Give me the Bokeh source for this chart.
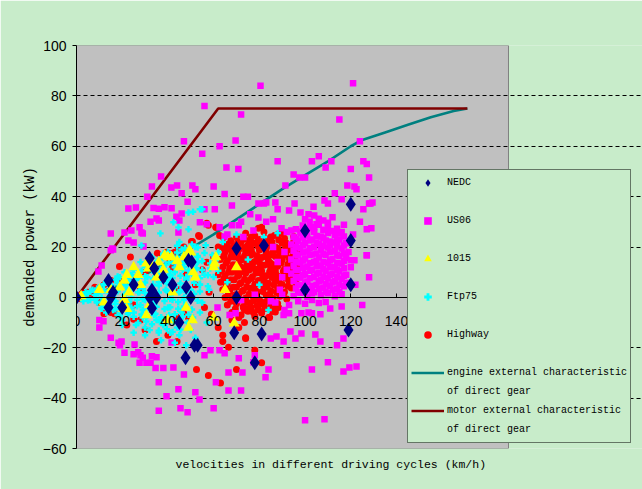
from bokeh.plotting import figure
from bokeh.models import (Range1d, FixedTicker, Legend, LegendItem, Title,
                          ColumnDataSource)
from bokeh.embed import file_html
from bokeh.resources import INLINE

# ---------------- data ----------------
x_ticks = [0, 20, 40, 60, 80, 100, 120, 140, 160, 180]
y_ticks = [-60, -40, -20, 0, 20, 40, 60, 80, 100]
grid_ticks = [-40, -20, 20, 40, 60, 80]
x_area = (0, 189)          # extent of the grey plot area (km/h)
y_area = (-60, 100)        # extent of the grey plot area (kW)

motor_v = [0, 62, 171]
motor_p = [0, 75, 75]

engine_v = [0, 10, 20, 30, 40, 50, 60, 70, 80, 90, 100, 110, 120, 125, 135, 145, 155, 165, 171]
engine_p = [0, 2, 5, 9, 14, 19.5, 25, 31, 37, 43, 48.5, 54, 60, 62.5, 65.5, 68.5, 71.5, 74, 75]

nedc_pts = [(0, 0), (15, 0), (14, 6.7), (14, -4), (16, 2), (32, 0), (33, -4.3), (35, 0), (33, 2.8),
            (32, 15.5), (34, 11.5), (50, 0), (50.4, 14), (49, 14.7), (47.7, -24), (51.6, -19),
            (53, -19), (70, 0), (70, 19.4), (69, -14), (82, 20.6), (100, 3), (100, 26.5),
            (81, -14.5), (78, -26), (120, 5), (120, 37), (120, 22.6), (119, -13), (45, -10),
            (20, -4), (25, 5), (38, 8), (42, 5), (48, 4)]

us06_pts = [
    # scattered high points
    (80.5, 84), (121, 85), (56, 76), (72, 72.6), (47, 62), (69.6, 62.3), (62.6, 60), (55, 57),
    (115, 70.6), (124, 62), (88, 54), (65.6, 51.6), (70.8, 51), (103, 54), (106, 56), (111.5, 54),
    (125.5, 54), (127, 53), (120, 51), (109, 51.6), (95, 48.8), (97.5, 47.6), (100, 47.6),
    (128, 47.6), (37, 48), (33, 44), (41.5, 43.6), (44, 44.4), (50.7, 44.4), (52, 42.9), (60, 44),
    (64.8, 41), (46, 41.3), (31, 40), (91.4, 44.4), (118.5, 44.4), (121.6, 44), (122.5, 42.9),
    (73, 40), (75, 40), (82, 37.3), (87, 37.7), (48.6, 38), (88, 35), (93, 34.5), (95.4, 37.3),
    (68, 36.5), (22.7, 35.3), (26, 35.7), (33.7, 35.5), (36, 35.2), (38.5, 35.8), (41.6, 35.4),
    (56, 35), (79.6, 37.3), (83, 37.7), (98, 33.7), (101.5, 33), (103.7, 36), (108.5, 38.5),
    (110, 37.3), (113, 41.3), (116, 39), (125.5, 35), (128.6, 37.3), (129.5, 37.7), (35, 31.3),
    (36, 30.5), (43.7, 32), (45, 30.5), (32.4, 30), (27.6, 27.8), (29, 25.4), (79.6, 31.7),
    (129, 27.4), (15, 25.4), (21, 25.8), (24, 26.6), (22.7, 22.6), (25, 21.8), (29.3, 20.2),
    (15, 18.7), (15.7, 19.4), (11, 12.7), (9.6, 10.3), (120, 14.7), (127, 16.7), (128, 8),
    (46, 33.3), (60.5, 35), (54, 29.8), (57, 29), (62.6, 27.8), (64.8, 24.2), (71, 28.6),
    (44.6, 25.8), (28.4, 25.8), (16, 19), (128, 37.3), (127, 27), (127, 16.7), (121.6, 14.7),
    (77.4, 26.6), (89.7, 27.4), (94, 26.6), (66, 25), (72, 30), (76, 33), (83, 30), (86, 31),
    (73, 24), (68, 28.6),
    # near zero, mid speeds
    (72, -1), (78, 1), (85, -1.5), (90, 1), (93, -3), (61.7, -4), (67, -7), (69.6, -6.3),
    # main US06 cluster
    (100, 31), (104, 32.5), (108, 30.5), (112, 31.8), (106, 28.8),
    (96, 27), (99, 28.5), (102, 27.5), (105, 29), (110, 28), (114, 27.2), (117, 28.8),
    (95, 24), (98, 25.5), (101, 24.6), (104, 26), (107, 24.2), (110, 25.6), (113, 24.8), (116, 26),
    (94, 21), (97, 22.5), (100, 21.6), (103, 23), (106, 21.2), (109, 22.6), (112, 21.8), (115, 23), (118, 21.5),
    (95, 18.5), (98, 19.6), (101, 18.2), (104, 20), (107, 18.8), (110, 19.8), (113, 18.4), (116, 19.4), (119, 18),
    (94, 15), (97, 16.6), (100, 15.4), (103, 17), (106, 15.8), (109, 16.8), (112, 15.2), (115, 16.4), (118, 15.6),
    (95, 12.4), (98, 13.8), (101, 12.2), (104, 14), (107, 12.6), (110, 13.6), (113, 12), (116, 13.4),
    (94, 9.5), (97, 10.8), (100, 9.2), (103, 11), (106, 9.8), (109, 10.6), (112, 9.4), (115, 10.4), (118, 9),
    (95, 6.5), (98, 7.8), (101, 6.2), (104, 8), (107, 6.8), (110, 7.6), (113, 6.4), (116, 7.4),
    (96, 3.5), (99, 4.8), (102, 3.2), (105, 5), (108, 3.8), (111, 4.6), (114, 3.4), (117, 4.4),
    (95, 0.5), (98, 1.8), (101, 0.2), (104, 2), (107, 0.8), (110, 1.6), (113, 0.4), (116, 1.2),
    (97, -1.5), (100, -2.5), (103, -1), (106, -2.2), (109, -1.8),
    (86, 20), (88, 14), (90, 8), (91, 18), (89, 3), (92, 26), (87, -2), (92, 11),
    (120, 12), (121, 25), (122, 5), (124, 30), (125, -3),
    (102, 30), (106, 31.2), (110, 29.6), (98, 26.2), (101, 27), (104, 27.8), (108, 26.8), (112, 26.4), (115, 25.4),
    (96, 23.2), (99, 23.8), (102, 22.6), (105, 24.4), (108, 23.6), (111, 22.2), (114, 22.4), (117, 24.2),
    (96, 20), (99, 20.8), (102, 19.6), (105, 21.8), (108, 20.4), (111, 20.6), (114, 20.2), (117, 20.6),
    (96, 17), (99, 17.8), (102, 16.8), (105, 17.4), (108, 17.2), (111, 18), (114, 16.8), (117, 17.4),
    (96, 14), (99, 14.6), (102, 13.6), (105, 14.4), (108, 14), (111, 14.6), (114, 13.6), (117, 14.4),
    (96, 11), (99, 11.8), (102, 10.6), (105, 12.4), (108, 11.2), (111, 12), (114, 11), (117, 11.6),
    (96, 8), (99, 8.8), (102, 7.6), (105, 9.4), (108, 8.2), (111, 9), (114, 8), (117, 8.6),
    (97, 5), (100, 5.8), (103, 4.6), (106, 6.4), (109, 5.2), (112, 6), (115, 5), (118, 5.8),
    (97, 2), (100, 2.8), (103, 1.6), (106, 3.4), (109, 2.2), (112, 3), (115, 2),
    # negative power
    (10, -9), (11.8, -9.5), (10, -12), (15, -16), (18.4, -18), (19, -19), (19.7, -17.5), (21, -22),
    (25, -22.6), (27, -21.8), (28, -23), (29, -24), (27.6, -26), (30.6, -26), (32.4, -26),
    (33, -23.4), (35, -23.8), (25.4, -18.7), (34.6, -28), (38, -28), (42.4, -27.8), (36, -33.7),
    (44.6, -36.5), (39.4, -39.3), (36, -45), (45.5, -44), (48.6, -45.6), (47, -30.6), (52, -37.7),
    (53.8, -40.5), (60, -44), (56, -23), (58.6, -21), (62.6, -21), (64.8, -22.2), (61, -33.7),
    (66.5, -29.8), (66.5, -37), (71, -24.2), (72.6, -29.8), (72, -37), (41.6, -17.9),
    (91, -5), (90.6, -7), (93, -6.3), (98.4, -6.3), (101.5, -6), (103, -6.3), (106.7, -6.7),
    (111, -4.4), (116, -3.6), (93.6, -13.5), (90.6, -17.5), (95.8, -16.3), (85, -16.3),
    (87.5, -15.5), (98.4, -14.3), (104.5, -14.7), (106.7, -17.5), (116.8, -16.3), (114, -19),
    (92, -23), (110, -25.8), (103, -28.6), (116.8, -29.4), (119.4, -27.8), (122.5, -27.4),
    (84, -28.6), (82.7, -31.7), (100, -48.8), (108.5, -48.4), (78, -23), (77.4, -25.8),
]

j1015_pts = [(0, 0), (2, 0.5), (10, 3), (12, -2), (21, 6.7), (20.6, -4.4), (22, 9), (25, 12),
             (30.6, 13.5), (30.6, -7), (32, -3), (35, 8), (38, 11), (40, 16), (40, -9), (42, 2),
             (45, 12), (48, -4), (50, 17.9), (50.7, -9), (49, -12), (52, 8), (60.4, 13.5),
             (61, 16), (60, -8), (69, -10.3), (65, 3), (70, 12),
             (38.6, 16.7), (41.6, 16), (31.5, 11.5), (33, 12), (27, 9), (36, 14), (44, 14.5),
             (47, 16), (49.4, 18.7), (51, 10), (60, 12), (28, 5), (15, 3), (19, 4), (23, 2),
             (21, -1), (22, -4.5)]

ftp75_pts = [
    (2, 0.5), (3, 1), (4, -0.5), (5, 1.5), (6, -1), (4, 2), (6, 2.5), (3, -1.5),
    (7, 3), (8, 1), (9, -2), (10, 4), (11, 0), (12, -3), (8, -1), (10, 2.5), (12, 5), (11, -4.5), (9, 3.5),
    (13, 6), (14, 2), (15, -1), (16, -5), (17, 7), (18, 3), (14, -3), (16, 0.5), (18, -7), (15, 4.5),
    (17, -2.5), (13, -6),
    (19, 8), (20, 5), (21, 1), (22, -2), (23, -6), (24, 9), (20, -9), (22, 3), (24, -4), (21, 10),
    (23, 6.5), (19, -4), (24, 0),
    (25, 11), (26, 7), (27, 2), (28, -3), (29, -8), (30, 12), (26, -11), (28, 5), (30, -1), (27, 9.5),
    (29, 3.5), (25, -6), (30, -12), (28, 14),
    (31, 8), (32, 13), (33, 4), (34, -2), (35, -9), (36, 15), (32, -13), (34, 10), (36, 6), (31, -5),
    (33, 16), (35, 1), (36, -14), (34, -7),
    (37, 11), (38, 17), (39, 3), (40, -4), (41, 9), (42, 14), (38, -11), (40, 7), (42, -1), (37, -8),
    (39, 13), (41, -14), (42, 5), (40, 18),
    (43, 10), (44, 16), (45, 2), (46, -6), (47, 12), (48, 7), (44, -12), (46, 19), (48, -3), (43, 4),
    (45, -15), (47, 0), (48, 14), (45, 22),
    (49, 9), (50, 3), (51, -8), (52, 11), (53, 16), (54, 5), (55, -2), (56, 9), (50, -13), (52, 20),
    (54, -6), (49, 27), (51, 34), (55, 35), (53, 14),
    (58, 3), (60, 13), (62, 18), (64, 22), (66, 6), (70, 25), (75, 15), (82, 24), (88, 25.5),
    (80, 5), (84, -5),
    (20, -11), (25, -14), (30, -15), (37, -17), (43, -18), (48, -19), (52, -16), (57, -10),
    (42.4, 29.8), (44.6, 27.8), (49, 33.7), (54, 35), (36.7, 25.4), (28.4, 20.6),
    (44, 20.5), (47.5, 19.6), (50.5, 21), (53, 19.8), (56.5, 20.7),
    (38, 17.4), (41.5, 16.6), (44, 17.8), (47, 16.9), (50.5, 17.3), (53, 16.4), (56, 17.6), (59.5, 16.8),
    (31, 14.3), (34.5, 13.6), (37, 14.8), (40.5, 13.9), (43, 14.5), (46.5, 13.4), (49, 14.9), (52.5, 13.8),
    (55, 14.4), (58.5, 13.5), (61, 14.7),
    (25, 11.2), (28.5, 10.6), (31, 11.7), (34.5, 10.8), (37, 11.4), (40.5, 10.5), (43, 11.9), (46.5, 11),
    (49, 10.7), (52.5, 11.6), (55, 10.9), (58.5, 11.5), (62, 10.6),
    (18, 8.3), (21.5, 7.6), (24, 8.7), (27.5, 7.8), (30, 8.4), (33.5, 7.5), (36, 8.9), (39.5, 8), (42, 7.7),
    (45.5, 8.6), (48, 7.9), (51.5, 8.5), (54, 7.6), (57.5, 8.8), (60, 8.1),
    (12, 5.2), (15.5, 4.6), (18, 5.7), (21.5, 4.8), (24, 5.4), (27.5, 4.5), (30, 5.9), (33.5, 5), (36, 4.7),
    (39.5, 5.6), (42, 4.9), (45.5, 5.5), (48, 4.6), (51.5, 5.8), (54, 5.1), (57.5, 4.4),
    (6, 2.2), (9.5, 1.6), (12, 2.7), (15.5, 1.8), (18, 2.4), (21.5, 1.5), (24, 2.9), (27.5, 2), (30, 1.7),
    (33.5, 2.6), (36, 1.9), (39.5, 2.5), (42, 1.6), (45.5, 2.8), (48, 2.1), (51.5, 1.4), (54, 2.3),
    (5, -1.2), (8.5, -0.6), (11, -1.7), (14.5, -0.8), (17, -1.4), (20.5, -0.5), (23, -1.9), (26.5, -1),
    (29, -0.7), (32.5, -1.6), (35, -0.9), (38.5, -1.5), (41, -0.6), (44.5, -1.8), (47, -1.1), (50.5, -0.4),
    (53, -1.3),
    (11, -4.2), (14.5, -3.6), (17, -4.7), (20.5, -3.8), (23, -4.4), (26.5, -3.5), (29, -4.9), (32.5, -4),
    (35, -3.7), (38.5, -4.6), (41, -3.9), (44.5, -4.5), (47, -3.6), (50.5, -4.8),
    (19, -7.2), (22.5, -6.6), (25, -7.7), (28.5, -6.8), (31, -7.4), (34.5, -6.5), (37, -7.9), (40.5, -7),
    (43, -6.7), (46.5, -7.6), (49, -6.9),
    (27, -10.2), (30.5, -9.6), (33, -10.7), (36.5, -9.8), (39, -10.4), (42.5, -9.5), (45, -10.9), (48.5, -10),
    (36, -13.2), (39.5, -12.6), (42, -13.7), (45.5, -12.8),
]

highway_pts = [
    (70, 24), (74, 25.5), (78, 24.5), (82, 26), (85, 24), (88, 25), (91, 23.5), (76, 22.8), (80, 23), (84, 22.5),
    (66, 21), (69, 20.5), (72, 22), (75, 20.8), (78, 21.5), (81, 20.5), (84, 21), (87, 20), (90, 21.5), (93, 20.2), (95, 22),
    (65, 18), (68, 17.5), (71, 19), (74, 18.2), (77, 17.4), (80, 18.8), (83, 17.8), (86, 18.5), (89, 17.2), (92, 18.4), (95, 17.6), (97, 19),
    (63, 15), (66, 14.5), (69, 16), (72, 14.8), (75, 15.6), (78, 14.2), (81, 15.8), (84, 14.6), (87, 16.2), (90, 14.9), (93, 15.5), (96, 14.3),
    (64, 12), (67, 11.5), (70, 13), (73, 11.8), (76, 12.6), (79, 11.2), (82, 12.8), (85, 11.6), (88, 12.4), (91, 11.3), (94, 12.7), (97, 11.9),
    (62, 9), (65, 8.5), (68, 10), (71, 8.8), (74, 9.6), (77, 8.2), (80, 9.8), (83, 8.6), (86, 9.4), (89, 8.1), (92, 9.7), (95, 8.8),
    (63, 6), (66, 5.5), (69, 7), (72, 5.8), (75, 6.6), (78, 5.2), (81, 6.8), (84, 5.6), (87, 6.4), (90, 5.1), (93, 6.6), (96, 5.8),
    (64, 3), (67, 2.5), (70, 4), (73, 2.8), (76, 3.6), (79, 2.2), (82, 3.8), (85, 2.6), (88, 3.4), (91, 2.1), (94, 3.7),
    (65, 0), (68, -0.5), (71, 1), (74, -0.2), (77, 0.6), (80, -0.8), (83, 0.8), (86, -0.4), (89, 0.4), (92, -0.6),
    (66, -3), (70, -2.5), (73, -3.6), (76, -2.2), (79, -3.2), (82, -2.8), (85, -3.5), (88, -2.4),
    (68, -6), (72, -7), (75, -5.5), (78, -7.5), (81, -6.2), (84, -8), (87, -5.8),
    (73, 10.5), (77, 13.5), (81, 10.5), (79, 16.5), (83, 19.5), (75, 12.5), (85, 13.5), (71, 15.5),
    (87, 10.5), (82, 7.2), (78, 3), (80, 14), (76, 19.5), (84, 17), (88, 19.5), (70, 10.5),
    (67.5, 22.5), (70.5, 22), (73.5, 23.2), (76.5, 24), (79.5, 22.6), (82.5, 23.4), (85.5, 22), (88.5, 22.8), (91.5, 21.8),
    (64.5, 19.5), (67.5, 19), (70.5, 20.5), (73.5, 19.8), (76.5, 18.9), (79.5, 20.2), (82.5, 19.2), (85.5, 20.4),
    (88.5, 18.6), (91.5, 19.8), (94.5, 19.2),
    (64.5, 16.5), (67.5, 16), (70.5, 17.6), (73.5, 16.4), (76.5, 16.9), (79.5, 15.4), (82.5, 16.2), (85.5, 16.9),
    (88.5, 15.6), (91.5, 16.8), (94.5, 16.2),
    (65.5, 13.5), (68.5, 13), (71.5, 12.4), (74.5, 13.9), (77.5, 11.6), (80.5, 12.9), (83.5, 13.2), (86.5, 12.9),
    (89.5, 13.6), (92.5, 13.2), (95.5, 13.1),
    (63.5, 10.5), (66.5, 10), (69.5, 11.6), (72.5, 10.3), (75.5, 10.9), (78.5, 9.7), (81.5, 8.5), (84.5, 10.2),
    (87.5, 8.9), (90.5, 10.4), (93.5, 11.1), (96.5, 10.3),
    (64.5, 7.5), (67.5, 7), (70.5, 8.4), (73.5, 7.2), (76.5, 7.5), (79.5, 6.7), (82.5, 5.9), (85.5, 7.9),
    (88.5, 6.6), (91.5, 7.6), (94.5, 7.3),
    (65.5, 4.5), (68.5, 4), (71.5, 5.4), (74.5, 4.2), (77.5, 3.9), (80.5, 5.3), (83.5, 4.2), (86.5, 4.9),
    (89.5, 4.7), (92.5, 4.4),
    (66.5, 1.5), (69.5, 1), (72.5, 2.4), (75.5, 1.2), (78.5, 1.4), (81.5, 2.3), (84.5, 1.2), (87.5, 1.9), (90.5, 1.3),
    (67.5, -1.5), (71.5, -1), (74.5, -1.8), (77.5, -1.2), (80.5, -1.9), (83.5, -1.3), (86.5, -2.2),
    (69.5, -4.5), (73.5, -5), (76.5, -4), (79.5, -4.8), (82.5, -4.4), (85.5, -5.6),
    # scattered
    (61, 27.8), (62.6, 24.6), (64.3, 23.8), (81, 27.8), (79.6, 27.4), (86.6, 24.6), (89.7, 25.4),
    (95, 24.2), (77, 21.4), (50.3, 22.2), (53.8, 24.2), (44.6, 19.4), (42, 17.5),
    (53.4, 24.6), (57, 29.4), (57.7, 28.6), (61, 27.8), (50.7, 22.2), (39.4, 17.9), (23.6, 16),
    (18.8, 12.3), (15, 6.7), (47, 20), (43, 17.9), (35.4, 17.5), (40.7, 15.5), (57, 13.9),
    (67, 19.4), (64.8, 20.6), (71, 21.4),
    (0, 0), (1, 0.5), (2, 1), (3, 1.5), (4, 0.5), (2, -0.5), (5, 2), (6, 1), (3.5, 0.8),
    (8, 4), (12, 5), (20, 7), (25, -3), (30, 10), (28, 3), (33, -5), (38, 7), (42, 12), (45, 3),
    (48, 9), (52, 5), (55, 11), (58, 2), (60, 16), (62, 20), (10, -2), (15, -6), (22, -11),
    (30, -13), (38, -10), (44, -8),
    (12, -6.5), (16.6, -6.5), (25, -8.7), (28, -9), (35, -17.5), (40, -15), (44, -17.5), (47, -6.5),
    (49, -8), (52.5, -28.6), (56, -4), (59, -6.7), (62, -12), (64, -15), (64, -17.5), (66.5, -19.8),
    (57.7, -31), (63, -34), (70, -28.6), (71, -12), (74, -16.3), (68, -9), (71, -8), (73, -4),
    (74, -16), (78, -21), (81, -26), (73.5, -10), (75, -4.4), (77.4, -6), (79.6, -5), (81, -2.5),
    (82, -2), (86.6, -4), (88.4, -4), (84.5, -8),
]

series_order = ["NEDC", "US06", "1015", "Ftp75", "Highway"]

# ---------------- figure ----------------
GREEN = "#c8ecca"
W, H = 642, 489
LEFT, TOP, BOTTOM = 76, 45, 41
px_per_kmh = 2.2857
p = figure(width=W, height=H, x_range=Range1d(0, (W - LEFT) / px_per_kmh),
           y_range=Range1d(*y_area),
           output_backend="svg", toolbar_location=None,
           min_border_left=LEFT, min_border_right=0, min_border_top=TOP, min_border_bottom=BOTTOM,
           background_fill_color=GREEN, border_fill_color=GREEN, outline_line_color=None)

# grey plot area
p.quad(left=[x_area[0]], right=[x_area[1]], bottom=[y_area[0]], top=[y_area[1]],
       fill_color="#c0c0c0", line_color="#808080", line_width=1, level="image")


def split(pts):
    return dict(x=[a for a, b in pts], y=[b for a, b in pts])


r_eng = p.line(engine_v, engine_p, line_color="#008080", line_width=2.6)
r_mot = p.line(motor_v, motor_p, line_color="#800000", line_width=2.6)

r_hw = p.scatter("x", "y", source=ColumnDataSource(split(highway_pts)), marker="circle",
                 size=7, fill_color="#ff0000", line_color=None)
r_us = p.scatter("x", "y", source=ColumnDataSource(split(us06_pts)), marker="square",
                 size=6.5, fill_color="#ff00ff", line_color=None)
r_ftp = p.scatter("x", "y", source=ColumnDataSource(split(ftp75_pts)), marker="plus",
                  size=6.5, fill_color="#00ffff", line_color=None)
r_jp = p.scatter("x", "y", source=ColumnDataSource(split(j1015_pts)), marker="triangle",
                 size=11, fill_color="#ffff00", line_color=None)
r_ne = p.scatter("x", "y", source=ColumnDataSource(split(nedc_pts)), marker="diamond",
                 size=15, fill_color="#000080", line_color=None)

r_blank = p.scatter(x=[], y=[], marker="square", fill_alpha=0, line_alpha=0)

# axes
ax = p.xaxis[0]
ax.fixed_location = 0
ax.bounds = x_area
ax.ticker = FixedTicker(ticks=x_ticks)
ax.major_tick_in = 4
ax.major_tick_out = 0
ax.minor_tick_in = 0
ax.minor_tick_out = 0
ax.axis_line_color = "black"
ax.major_tick_line_color = "black"
ax.major_label_standoff = 19
ax.major_label_text_font = "Liberation Sans"
ax.major_label_text_font_size = "14px"
ax.major_label_text_color = "black"

ay = p.yaxis[0]
ay.ticker = FixedTicker(ticks=y_ticks)
ay.major_tick_in = 0
ay.major_tick_out = 4
ay.minor_tick_in = 0
ay.minor_tick_out = 0
ay.axis_line_color = "black"
ay.major_tick_line_color = "black"
ay.major_label_standoff = 6
ay.major_label_text_font = "Liberation Sans"
ay.major_label_text_font_size = "14px"
ay.major_label_text_color = "black"
ay.axis_label = "demanded power (kW)"
ay.axis_label_text_font = "Liberation Mono"
ay.axis_label_text_font_size = "14px"
ay.axis_label_text_font_style = "normal"
ay.axis_label_text_color = "black"
ay.axis_label_standoff = 2

p.xgrid.visible = False
p.ygrid.ticker = FixedTicker(ticks=grid_ticks)
p.ygrid.bounds = x_area
p.ygrid.grid_line_color = "black"
p.ygrid.grid_line_dash = "4 3"
p.ygrid.grid_line_width = 1

p.add_layout(Title(text="velocities in different driving cycles (km/h)", align="left",
                   offset=99, standoff=15, text_font="Liberation Mono", text_font_size="11.5px",
                   text_font_style="normal", text_color="black"), "below")

items = [
    LegendItem(label=series_order[0], renderers=[r_ne]),
    LegendItem(label=" ", renderers=[r_blank]),
    LegendItem(label=series_order[1], renderers=[r_us]),
    LegendItem(label=" ", renderers=[r_blank]),
    LegendItem(label=series_order[2], renderers=[r_jp]),
    LegendItem(label=" ", renderers=[r_blank]),
    LegendItem(label=series_order[3], renderers=[r_ftp]),
    LegendItem(label=" ", renderers=[r_blank]),
    LegendItem(label=series_order[4], renderers=[r_hw]),
    LegendItem(label=" ", renderers=[r_blank]),
    LegendItem(label="engine external characteristic", renderers=[r_eng]),
    LegendItem(label="of direct gear", renderers=[r_blank]),
    LegendItem(label="motor external characteristic", renderers=[r_mot]),
    LegendItem(label="of direct gear", renderers=[r_blank]),
]
legend = Legend(items=items, location=(331, 5), orientation="vertical", padding=3, spacing=0,
                margin=0, glyph_height=19, glyph_width=33, label_height=19, label_standoff=3,
                label_text_font="Liberation Mono", label_text_font_size="10px",
                label_text_color="black", background_fill_color=GREEN, background_fill_alpha=1,
                border_line_color="black", border_line_width=1)
p.add_layout(legend)

open("out.html", "w").write(file_html(p, INLINE))
